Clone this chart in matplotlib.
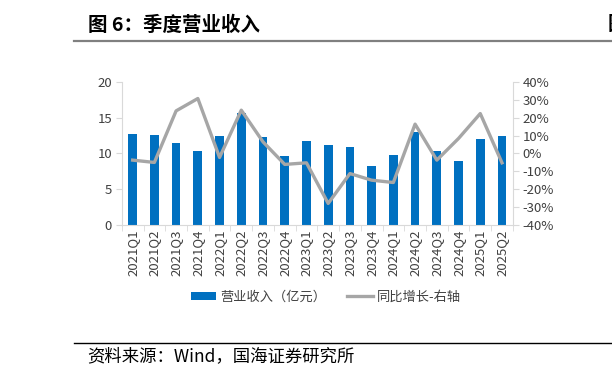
import matplotlib
matplotlib.use("Agg")
import matplotlib.pyplot as plt
from matplotlib.ticker import FuncFormatter
import numpy as np

plt.rcParams['font.family'] = ['Noto Sans CJK SC', 'DejaVu Sans']

quarters = ['2021Q1', '2021Q2', '2021Q3', '2021Q4', '2022Q1', '2022Q2', '2022Q3', '2022Q4',
            '2023Q1', '2023Q2', '2023Q3', '2023Q4', '2024Q1', '2024Q2', '2024Q3', '2024Q4',
            '2025Q1', '2025Q2']
revenue = [12.7, 12.55, 11.5, 10.3, 12.4, 15.6, 12.3, 9.7,
           11.8, 11.15, 10.9, 8.2, 9.85, 12.95, 10.4, 8.9,
           12.0, 12.4]
yoy = [-3.7, -5.0, 23.8, 30.7, -2.2, 24.2, 6.5, -6.1,
       -5.2, -27.9, -11.2, -14.9, -16.2, 16.4, -3.7, 8.4,
       22.3, -5.2]

blue = '#0070C0'
grey = '#A6A6A6'
axcol = '#D9D9D9'

fig = plt.figure(figsize=(6.12, 3.79), dpi=100)
ax = fig.add_axes([0.199, 0.406, 0.639, 0.378])
x = np.arange(len(quarters))
ax.bar(x, revenue, width=0.4, color=blue, label='营业收入（亿元）', zorder=2)
ax.set_xlim(-0.5, len(quarters) - 0.5)
ax.set_ylim(0, 20)
ax.set_yticks([0, 5, 10, 15, 20])
ax.set_xticks(x)
ax.set_xticklabels(quarters, rotation=90, fontsize=9.5, color='#404040')
ax.set_xticks(np.arange(-0.5, len(quarters)), minor=True)
ax.tick_params(axis='x', which='major', length=0, pad=3)
ax.tick_params(axis='x', which='minor', length=4, color=axcol)
ax.tick_params(axis='y', length=4, color=axcol, labelsize=9.5, labelcolor='#404040', pad=3)
for s in ['top', 'right']:
    ax.spines[s].set_visible(False)
for s in ['left', 'bottom']:
    ax.spines[s].set_color(axcol)

ax2 = ax.twinx()
ax2.plot(x, yoy, color=grey, lw=2.4, label='同比增长-右轴', zorder=3)
ax2.set_ylim(-40, 40)
ax2.set_yticks(np.arange(-40, 41, 10))
ax2.yaxis.set_major_formatter(FuncFormatter(lambda v, p: f'{v:.0f}%'))
ax2.tick_params(axis='y', length=4, color=axcol, labelsize=9.5, labelcolor='#404040', pad=3)
for s in ['top', 'left', 'bottom']:
    ax2.spines[s].set_visible(False)
ax2.spines['right'].set_color(axcol)

h1, l1 = ax.get_legend_handles_labels()
h2, l2 = ax2.get_legend_handles_labels()
fig.legend(h1 + h2, l1 + l2, loc='center', bbox_to_anchor=(326 / 612, 1 - 297 / 379),
           ncol=2, frameon=False, fontsize=9.5, handlelength=1.9, handleheight=0.6,
           columnspacing=1.6, handletextpad=0.3, labelcolor='#404040')

# title and source
fig.text(88 / 612, 1 - 25 / 379, '图 6：季度营业收入', fontsize=14, fontweight='bold',
         va='center', ha='left', color='black')
fig.text(608 / 612, 1 - 25 / 379, '图', fontsize=14, fontweight='bold',
         va='center', ha='left', color='black')
fig.add_artist(plt.Line2D([74 / 612, 1], [1 - 40.7 / 379] * 2, color='#808080', lw=1.6))
fig.add_artist(plt.Line2D([74 / 612, 1], [1 - 343 / 379] * 2, color='black', lw=1.0))
fig.text(87 / 612, 1 - 356 / 379, '资料来源：Wind，国海证券研究所', fontsize=12.5,
         va='center', ha='left', color='black')

fig.savefig('out.png', dpi=100)
